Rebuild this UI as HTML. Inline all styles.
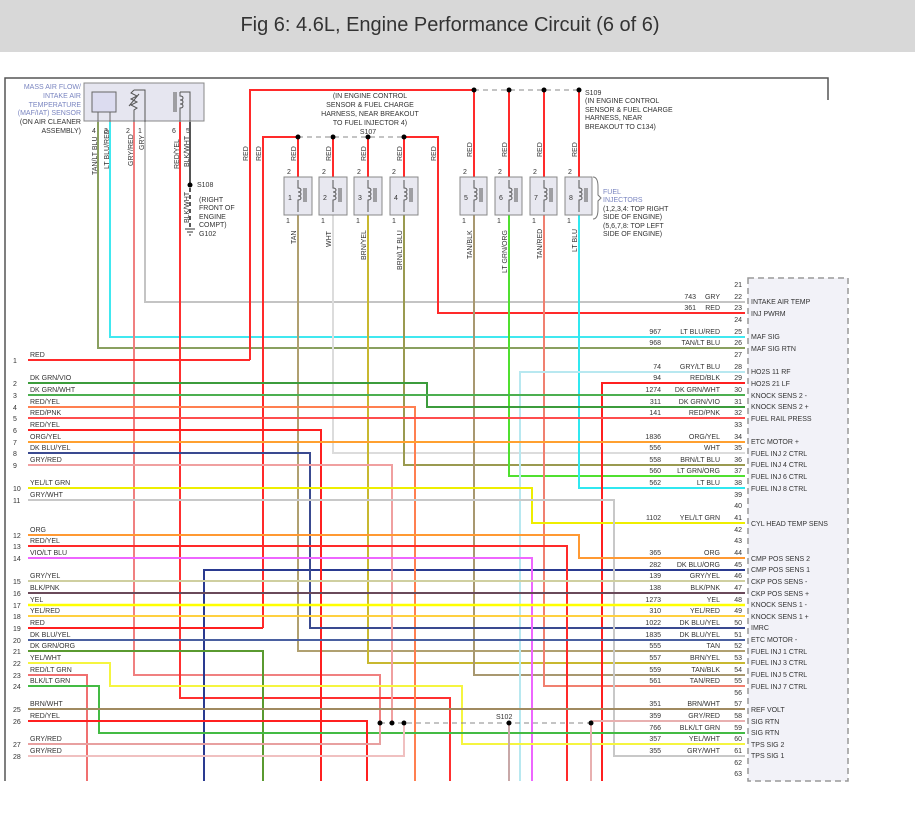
<!DOCTYPE html>
<html><head><meta charset="utf-8"><style>
html,body{margin:0;padding:0;background:#fff;}
svg{display:block;font-family:"Liberation Sans",sans-serif;}
text{font-size:7px;fill:#333;}
.w{fill:none;stroke-width:2;}
</style></head><body>
<svg width="915" height="816" viewBox="0 0 915 816" xmlns="http://www.w3.org/2000/svg">
<rect x="0" y="0" width="915" height="52" fill="#d8d8d8"/>
<text x="450" y="31" text-anchor="middle" style="font-size:20px;fill:#333">Fig 6: 4.6L, Engine Performance Circuit (6 of 6)</text>
<path d="M5,781 V78 H828 V100" fill="none" stroke="#555" stroke-width="1.5"/>
<rect x="748" y="278" width="100" height="503" fill="#f2f2f8" stroke="#999" stroke-dasharray="6,4" stroke-width="1.5"/>

<rect x="84" y="83" width="120" height="38" fill="#e6e6f0" stroke="#888"/>
<rect x="92" y="92" width="24" height="20" fill="#dcdcf0" stroke="#666"/>
<path d="M98,112 V122 M110,112 V122" stroke="#666" fill="none"/>
<path d="M134,90 l-3,3 l6,3 l-6,3 l6,3 l-6,3 l6,3 l-3,2 V122 M134,90 H145 V122 M129,106 l10,-12" stroke="#555" fill="none"/>
<path d="M180,92 v4 c4,0 4,4 0,4 c4,0 4,4 0,4 c4,0 4,4 0,4 v14 M180,92 H190 V122 M174,92 v20 M176,92 v20" stroke="#555" fill="none"/>
<g text-anchor="end">
<text x="81" y="89" style="fill:#7a85c0">MASS AIR FLOW/</text>
<text x="81" y="98" style="fill:#7a85c0">INTAKE AIR</text>
<text x="81" y="107" style="fill:#7a85c0">TEMPERATURE</text>
<text x="81" y="115" style="fill:#7a85c0">(MAF/IAT) SENSOR</text>
<text x="81" y="124">(ON AIR CLEANER</text>
<text x="81" y="133">ASSEMBLY)</text>
</g>
<text x="92" y="133">4</text><text x="104" y="133">3</text><text x="126" y="133">2</text><text x="138" y="133">1</text><text x="172" y="133">6</text><text x="186" y="133">5</text>

<text x="370" y="98" text-anchor="middle">(IN ENGINE CONTROL</text>
<text x="370" y="107" text-anchor="middle">SENSOR &amp; FUEL CHARGE</text>
<text x="370" y="116" text-anchor="middle">HARNESS, NEAR BREAKOUT</text>
<text x="370" y="125" text-anchor="middle">TO FUEL INJECTOR 4)</text>
<text x="368" y="134" text-anchor="middle">S107</text>
<text x="585" y="95">S109</text>
<text x="585" y="103">(IN ENGINE CONTROL</text>
<text x="585" y="112">SENSOR &amp; FUEL CHARGE</text>
<text x="585" y="120">HARNESS, NEAR</text>
<text x="585" y="129">BREAKOUT TO C134)</text>
<text x="603" y="194" style="fill:#7a85c0">FUEL</text>
<text x="603" y="202" style="fill:#7a85c0">INJECTORS</text>
<text x="603" y="211">(1,2,3,4: TOP RIGHT</text>
<text x="603" y="219">SIDE OF ENGINE)</text>
<text x="603" y="228">(5,6,7,8: TOP LEFT</text>
<text x="603" y="236">SIDE OF ENGINE)</text>
<path d="M593,177 q5,0 5,10 v8 l3,3 l-3,3 v8 q0,10 -5,10" fill="none" stroke="#777"/>
<text x="197" y="187">S108</text>
<text x="199" y="202">(RIGHT</text>
<text x="199" y="210">FRONT OF</text>
<text x="199" y="219">ENGINE</text>
<text x="199" y="227">COMPT)</text>
<text x="199" y="236">G102</text>
<text x="496" y="719">S102</text>

<g class="w">
<path d="M98,122 V348 H745" stroke="#8aa060"/>
<path d="M110,122 V337 H745" stroke="#40e8f0"/>
<path d="M134,122 V675 H380 V721" stroke="#f08080"/>
<path d="M145,122 V302 H745" stroke="#c4c4c4"/>
<path d="M180,122 V698 H450 V781" stroke="#ff3030"/>
<path d="M190,122 V184" stroke="#555"/>
<path d="M190,188 V228" stroke="#555" stroke-dasharray="4,3"/>
<path d="M250,360 V90 H474" stroke="#ff2a2a"/>
<path d="M263,628 V137 H298" stroke="#ff2a2a"/>
<path d="M404,137 H438 V313 H745" stroke="#ff2a2a"/>
<path d="M298,137 V177 M333,137 V177 M368,137 V177 M404,137 V177" stroke="#ff2a2a"/>
<path d="M474,90 V177 M509,90 V177 M544,90 V177 M579,90 V177" stroke="#ff2a2a"/>
<path d="M298,215 V651 H745" stroke="#b0a070"/>
<path d="M333,215 V453 H745" stroke="#dcdcdc"/>
<path d="M368,215 V663 H745" stroke="#c8b830"/>
<path d="M404,215 V465 H745" stroke="#9a9a50"/>
<path d="M474,215 V675 H745" stroke="#a89870"/>
<path d="M509,215 V476 H745" stroke="#50e030"/>
<path d="M544,215 V686 H745" stroke="#f08070"/>
<path d="M579,215 V488 H745" stroke="#30e8f0"/>
<path d="M745,372 H520 V781" stroke="#b8e8f0"/>
<path d="M745,383 H602 V781" stroke="#ff2020"/>
<path d="M745,570 H204 V781" stroke="#2a3a90"/>
<path d="M28,383 H427 V407 H745" stroke="#3c9c3c"/>
<path d="M28,395 H745" stroke="#4caf50"/>
<path d="M28,407 H415 V781" stroke="#ff7f50"/>
<path d="M28,418 H745" stroke="#ff4d4d"/>
<path d="M28,430 H321 V781" stroke="#ff2020"/>
<path d="M28,442 H745" stroke="#ffa030"/>
<path d="M28,453 H310 V628 H745" stroke="#3a4a90"/>
<path d="M28,465 H392 V721" stroke="#f0a0a0"/>
<path d="M28,488 H532 V523 H745" stroke="#eeee00"/>
<path d="M28,500 H614 V756 H745" stroke="#c8c8c8"/>
<path d="M28,535 H579 V558 H745" stroke="#ff9933"/>
<path d="M28,546 H567 V781" stroke="#ff2a2a"/>
<path d="M28,558 H532 V781" stroke="#ee66ff"/>
<path d="M28,581 H745" stroke="#cfcfa0"/>
<path d="M28,593 H745" stroke="#6a4a5a"/>
<path d="M28,605 H745" stroke="#ffff00" stroke-width="2.5"/>
<path d="M28,616 H745" stroke="#ffd040"/>
<path d="M28,628 H263" stroke="#ff2020"/>
<path d="M28,640 H745" stroke="#4a60a0"/>
<path d="M28,651 H263 V781" stroke="#5a9a30"/>
<path d="M28,663 H110 V686 H462 V744 H745" stroke="#f5f540"/>
<path d="M28,675 H87 V781" stroke="#f07070"/>
<path d="M28,686 H99 V733 H745" stroke="#44bb44"/>
<path d="M28,709 H745" stroke="#a08a60"/>
<path d="M28,721 H367 V781" stroke="#ff2020"/>
<path d="M28,744 H380 V721" stroke="#e8a0a0"/>
<path d="M28,756 H404 V721" stroke="#f0c0c0"/>
<path d="M509,721 V781" stroke="#c8a8a8"/>
<path d="M591,721 V781 M591,721 H745" stroke="#e8b0b0"/>
<path d="M28,360 H250" stroke="#ff2a2a"/>
</g>
<path d="M298,137 H404 M474,90 H579 M380,723 H591" stroke="#888" stroke-dasharray="5,4" fill="none"/>
<g fill="#000">
<circle cx="298" cy="137" r="2.5"/><circle cx="333" cy="137" r="2.5"/><circle cx="368" cy="137" r="2.5"/><circle cx="404" cy="137" r="2.5"/>
<circle cx="474" cy="90" r="2.5"/><circle cx="509" cy="90" r="2.5"/><circle cx="544" cy="90" r="2.5"/><circle cx="579" cy="90" r="2.5"/>
<circle cx="380" cy="723" r="2.5"/><circle cx="392" cy="723" r="2.5"/><circle cx="404" cy="723" r="2.5"/><circle cx="509" cy="723" r="2.5"/><circle cx="591" cy="723" r="2.5"/>
<circle cx="190" cy="185" r="2.5"/>
</g>
<path d="M185,229 h10 M187,232 h6 M189,235 h2" stroke="#333" fill="none"/>

<g fill="#e8e8f0" stroke="#888">
<rect x="284" y="177" width="28" height="38"/><rect x="319" y="177" width="28" height="38"/><rect x="354" y="177" width="28" height="38"/><rect x="390" y="177" width="28" height="38"/>
<rect x="460" y="177" width="27" height="38"/><rect x="495" y="177" width="27" height="38"/><rect x="530" y="177" width="27" height="38"/><rect x="565" y="177" width="27" height="38"/>
</g>
<g fill="none" stroke="#555">
<path d="M298,180 v8 c4,0 4,4 0,4 c4,0 4,4 0,4 c4,0 4,4 0,4 v12 M304,188 v14 M306,188 v14"/>
<path d="M333,180 v8 c4,0 4,4 0,4 c4,0 4,4 0,4 c4,0 4,4 0,4 v12 M339,188 v14 M341,188 v14"/>
<path d="M368,180 v8 c4,0 4,4 0,4 c4,0 4,4 0,4 c4,0 4,4 0,4 v12 M374,188 v14 M376,188 v14"/>
<path d="M404,180 v8 c4,0 4,4 0,4 c4,0 4,4 0,4 c4,0 4,4 0,4 v12 M410,188 v14 M412,188 v14"/>
<path d="M474,180 v8 c4,0 4,4 0,4 c4,0 4,4 0,4 c4,0 4,4 0,4 v12 M480,188 v14 M482,188 v14"/>
<path d="M509,180 v8 c4,0 4,4 0,4 c4,0 4,4 0,4 c4,0 4,4 0,4 v12 M515,188 v14 M517,188 v14"/>
<path d="M544,180 v8 c4,0 4,4 0,4 c4,0 4,4 0,4 c4,0 4,4 0,4 v12 M550,188 v14 M552,188 v14"/>
<path d="M579,180 v8 c4,0 4,4 0,4 c4,0 4,4 0,4 c4,0 4,4 0,4 v12 M585,188 v14 M587,188 v14"/>
</g>
<text x="288" y="200">1</text><text x="323" y="200">2</text><text x="358" y="200">3</text><text x="394" y="200">4</text>
<text x="464" y="200">5</text><text x="499" y="200">6</text><text x="534" y="200">7</text><text x="569" y="200">8</text>
<g>
<text x="287" y="174">2</text><text x="322" y="174">2</text><text x="357" y="174">2</text><text x="392" y="174">2</text>
<text x="463" y="174">2</text><text x="498" y="174">2</text><text x="533" y="174">2</text><text x="568" y="174">2</text>
<text x="286" y="223">1</text><text x="321" y="223">1</text><text x="356" y="223">1</text><text x="392" y="223">1</text>
<text x="462" y="223">1</text><text x="497" y="223">1</text><text x="532" y="223">1</text><text x="567" y="223">1</text>
</g>

<text transform="translate(97,175) rotate(-90)">TAN/LT BLU</text>
<text transform="translate(109,169) rotate(-90)">LT BLU/RED</text>
<text transform="translate(133,166) rotate(-90)">GRY/RED</text>
<text transform="translate(144,150) rotate(-90)">GRY</text>
<text transform="translate(179,169) rotate(-90)">RED/YEL</text>
<text transform="translate(189,167) rotate(-90)">BLK/WHT</text>
<text transform="translate(189,223) rotate(-90)">BLK/WHT</text>
<text transform="translate(248,161) rotate(-90)">RED</text>
<text transform="translate(261,161) rotate(-90)">RED</text>
<text transform="translate(436,161) rotate(-90)">RED</text>
<text transform="translate(296,161) rotate(-90)">RED</text>
<text transform="translate(331,161) rotate(-90)">RED</text>
<text transform="translate(366,161) rotate(-90)">RED</text>
<text transform="translate(402,161) rotate(-90)">RED</text>
<text transform="translate(472,157) rotate(-90)">RED</text>
<text transform="translate(507,157) rotate(-90)">RED</text>
<text transform="translate(542,157) rotate(-90)">RED</text>
<text transform="translate(577,157) rotate(-90)">RED</text>
<text transform="translate(296,244) rotate(-90)">TAN</text>
<text transform="translate(331,247) rotate(-90)">WHT</text>
<text transform="translate(366,260) rotate(-90)">BRN/YEL</text>
<text transform="translate(402,270) rotate(-90)">BRN/LT BLU</text>
<text transform="translate(472,259) rotate(-90)">TAN/BLK</text>
<text transform="translate(507,273) rotate(-90)">LT GRN/ORG</text>
<text transform="translate(542,259) rotate(-90)">TAN/RED</text>
<text transform="translate(577,252) rotate(-90)">LT BLU</text>

<g>
<text x="30" y="357">RED</text><text x="13" y="363">1</text>
<text x="30" y="380">DK GRN/VIO</text><text x="13" y="386">2</text>
<text x="30" y="392">DK GRN/WHT</text><text x="13" y="398">3</text>
<text x="30" y="404">RED/YEL</text><text x="13" y="410">4</text>
<text x="30" y="415">RED/PNK</text><text x="13" y="421">5</text>
<text x="30" y="427">RED/YEL</text><text x="13" y="433">6</text>
<text x="30" y="439">ORG/YEL</text><text x="13" y="445">7</text>
<text x="30" y="450">DK BLU/YEL</text><text x="13" y="456">8</text>
<text x="30" y="462">GRY/RED</text><text x="13" y="468">9</text>
<text x="30" y="485">YEL/LT GRN</text><text x="13" y="491">10</text>
<text x="30" y="497">GRY/WHT</text><text x="13" y="503">11</text>
<text x="30" y="532">ORG</text><text x="13" y="538">12</text>
<text x="30" y="543">RED/YEL</text><text x="13" y="549">13</text>
<text x="30" y="555">VIO/LT BLU</text><text x="13" y="561">14</text>
<text x="30" y="578">GRY/YEL</text><text x="13" y="584">15</text>
<text x="30" y="590">BLK/PNK</text><text x="13" y="596">16</text>
<text x="30" y="602">YEL</text><text x="13" y="608">17</text>
<text x="30" y="613">YEL/RED</text><text x="13" y="619">18</text>
<text x="30" y="625">RED</text><text x="13" y="631">19</text>
<text x="30" y="637">DK BLU/YEL</text><text x="13" y="643">20</text>
<text x="30" y="648">DK GRN/ORG</text><text x="13" y="654">21</text>
<text x="30" y="660">YEL/WHT</text><text x="13" y="666">22</text>
<text x="30" y="672">RED/LT GRN</text><text x="13" y="678">23</text>
<text x="30" y="683">BLK/LT GRN</text><text x="13" y="689">24</text>
<text x="30" y="706">BRN/WHT</text><text x="13" y="712">25</text>
<text x="30" y="718">RED/YEL</text><text x="13" y="724">26</text>
<text x="30" y="741">GRY/RED</text><text x="13" y="747">27</text>
<text x="30" y="753">GRY/RED</text><text x="13" y="759">28</text>
</g>

<g text-anchor="end">
<text x="742" y="287">21</text><text x="742" y="299">22</text><text x="742" y="310">23</text><text x="742" y="322">24</text><text x="742" y="334">25</text><text x="742" y="345">26</text><text x="742" y="357">27</text><text x="742" y="369">28</text><text x="742" y="380">29</text><text x="742" y="392">30</text><text x="742" y="404">31</text><text x="742" y="415">32</text><text x="742" y="427">33</text><text x="742" y="439">34</text><text x="742" y="450">35</text><text x="742" y="462">36</text><text x="742" y="473">37</text><text x="742" y="485">38</text><text x="742" y="497">39</text><text x="742" y="508">40</text><text x="742" y="520">41</text><text x="742" y="532">42</text><text x="742" y="543">43</text><text x="742" y="555">44</text><text x="742" y="567">45</text><text x="742" y="578">46</text><text x="742" y="590">47</text><text x="742" y="602">48</text><text x="742" y="613">49</text><text x="742" y="625">50</text><text x="742" y="637">51</text><text x="742" y="648">52</text><text x="742" y="660">53</text><text x="742" y="672">54</text><text x="742" y="683">55</text><text x="742" y="695">56</text><text x="742" y="706">57</text><text x="742" y="718">58</text><text x="742" y="730">59</text><text x="742" y="741">60</text><text x="742" y="753">61</text><text x="742" y="765">62</text><text x="742" y="776">63</text>
</g>
<g text-anchor="end">
<text x="696" y="299">743</text><text x="720" y="299">GRY</text>
<text x="696" y="310">361</text><text x="720" y="310">RED</text>
<text x="661" y="334">967</text><text x="720" y="334">LT BLU/RED</text>
<text x="661" y="345">968</text><text x="720" y="345">TAN/LT BLU</text>
<text x="661" y="369">74</text><text x="720" y="369">GRY/LT BLU</text>
<text x="661" y="380">94</text><text x="720" y="380">RED/BLK</text>
<text x="661" y="392">1274</text><text x="720" y="392">DK GRN/WHT</text>
<text x="661" y="404">311</text><text x="720" y="404">DK GRN/VIO</text>
<text x="661" y="415">141</text><text x="720" y="415">RED/PNK</text>
<text x="661" y="439">1836</text><text x="720" y="439">ORG/YEL</text>
<text x="661" y="450">556</text><text x="720" y="450">WHT</text>
<text x="661" y="462">558</text><text x="720" y="462">BRN/LT BLU</text>
<text x="661" y="473">560</text><text x="720" y="473">LT GRN/ORG</text>
<text x="661" y="485">562</text><text x="720" y="485">LT BLU</text>
<text x="661" y="520">1102</text><text x="720" y="520">YEL/LT GRN</text>
<text x="661" y="555">365</text><text x="720" y="555">ORG</text>
<text x="661" y="567">282</text><text x="720" y="567">DK BLU/ORG</text>
<text x="661" y="578">139</text><text x="720" y="578">GRY/YEL</text>
<text x="661" y="590">138</text><text x="720" y="590">BLK/PNK</text>
<text x="661" y="602">1273</text><text x="720" y="602">YEL</text>
<text x="661" y="613">310</text><text x="720" y="613">YEL/RED</text>
<text x="661" y="625">1022</text><text x="720" y="625">DK BLU/YEL</text>
<text x="661" y="637">1835</text><text x="720" y="637">DK BLU/YEL</text>
<text x="661" y="648">555</text><text x="720" y="648">TAN</text>
<text x="661" y="660">557</text><text x="720" y="660">BRN/YEL</text>
<text x="661" y="672">559</text><text x="720" y="672">TAN/BLK</text>
<text x="661" y="683">561</text><text x="720" y="683">TAN/RED</text>
<text x="661" y="706">351</text><text x="720" y="706">BRN/WHT</text>
<text x="661" y="718">359</text><text x="720" y="718">GRY/RED</text>
<text x="661" y="730">766</text><text x="720" y="730">BLK/LT GRN</text>
<text x="661" y="741">357</text><text x="720" y="741">YEL/WHT</text>
<text x="661" y="753">355</text><text x="720" y="753">GRY/WHT</text>
</g>
<g>
<text x="751" y="304">INTAKE AIR TEMP</text>
<text x="751" y="316">INJ PWRM</text>
<text x="751" y="339">MAF SIG</text>
<text x="751" y="351">MAF SIG RTN</text>
<text x="751" y="374">HO2S 11 RF</text>
<text x="751" y="386">HO2S 21 LF</text>
<text x="751" y="398">KNOCK SENS 2 -</text>
<text x="751" y="409">KNOCK SENS 2 +</text>
<text x="751" y="421">FUEL RAIL PRESS</text>
<text x="751" y="444">ETC MOTOR +</text>
<text x="751" y="456">FUEL INJ 2 CTRL</text>
<text x="751" y="467">FUEL INJ 4 CTRL</text>
<text x="751" y="479">FUEL INJ 6 CTRL</text>
<text x="751" y="491">FUEL INJ 8 CTRL</text>
<text x="751" y="526">CYL HEAD TEMP SENS</text>
<text x="751" y="561">CMP POS SENS 2</text>
<text x="751" y="572">CMP POS SENS 1</text>
<text x="751" y="584">CKP POS SENS -</text>
<text x="751" y="596">CKP POS SENS +</text>
<text x="751" y="607">KNOCK SENS 1 -</text>
<text x="751" y="619">KNOCK SENS 1 +</text>
<text x="751" y="630">IMRC</text>
<text x="751" y="642">ETC MOTOR -</text>
<text x="751" y="654">FUEL INJ 1 CTRL</text>
<text x="751" y="665">FUEL INJ 3 CTRL</text>
<text x="751" y="677">FUEL INJ 5 CTRL</text>
<text x="751" y="689">FUEL INJ 7 CTRL</text>
<text x="751" y="712">REF VOLT</text>
<text x="751" y="724">SIG RTN</text>
<text x="751" y="735">SIG RTN</text>
<text x="751" y="747">TPS SIG 2</text>
<text x="751" y="758">TPS SIG 1</text>
</g>
</svg>
</body></html>
